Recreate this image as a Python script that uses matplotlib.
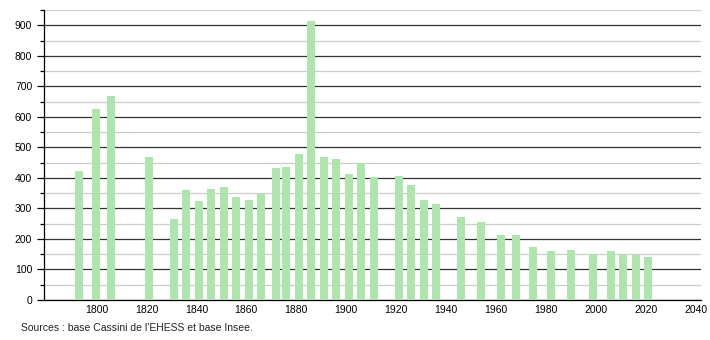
import matplotlib.pyplot as plt
from matplotlib.ticker import MultipleLocator

years = [1793, 1800, 1806, 1821, 1831, 1836, 1841, 1846, 1851, 1856,
         1861, 1866, 1872, 1876, 1881, 1886, 1891, 1896, 1901, 1906,
         1911, 1921, 1926, 1931, 1936, 1946, 1954, 1962, 1968, 1975,
         1982, 1990, 1999, 2006, 2011, 2016, 2021]
population = [424, 627, 670, 470, 265, 361, 325, 365, 369, 338,
              329, 348, 434, 437, 480, 913, 470, 462, 414, 449,
              404, 407, 378, 329, 315, 273, 256, 214, 214, 172,
              159, 164, 151, 161, 146, 146, 141]
xticks = list(range(1800, 2041, 20))
source = "Sources : base Cassini de l'EHESS et base Insee."

plt.rcParams["font.family"] = ["Liberation Sans", "DejaVu Sans"]

fig = plt.figure(figsize=(7.1, 3.4), dpi=100)
ax = fig.add_axes([0.062, 0.118, 0.925, 0.852])

ax.bar(years, population, width=3.2, color="#ade5ad", zorder=3)

ax.set_xlim(1779, 2042)
ax.set_ylim(0, 950)
ax.set_xticks(xticks)
ax.yaxis.set_major_locator(MultipleLocator(100))
ax.yaxis.set_minor_locator(MultipleLocator(50))
ax.grid(axis="y", which="major", color="#333333", linewidth=0.9, zorder=1)
ax.grid(axis="y", which="minor", color="#cccccc", linewidth=0.9, zorder=1)

ax.tick_params(axis="x", length=0, labelsize=7.5, pad=4)
ax.tick_params(axis="y", which="major", length=5, width=0.9, labelsize=7.5)
ax.tick_params(axis="y", which="minor", length=3, width=0.9)

for side in ("top", "right"):
    ax.spines[side].set_visible(False)
ax.spines["left"].set_linewidth(0.9)
ax.spines["bottom"].set_linewidth(0.9)

fig.text(0.03, 0.026, source, fontsize=7.5, color="#222222")

fig.savefig("out.png", dpi=100)
